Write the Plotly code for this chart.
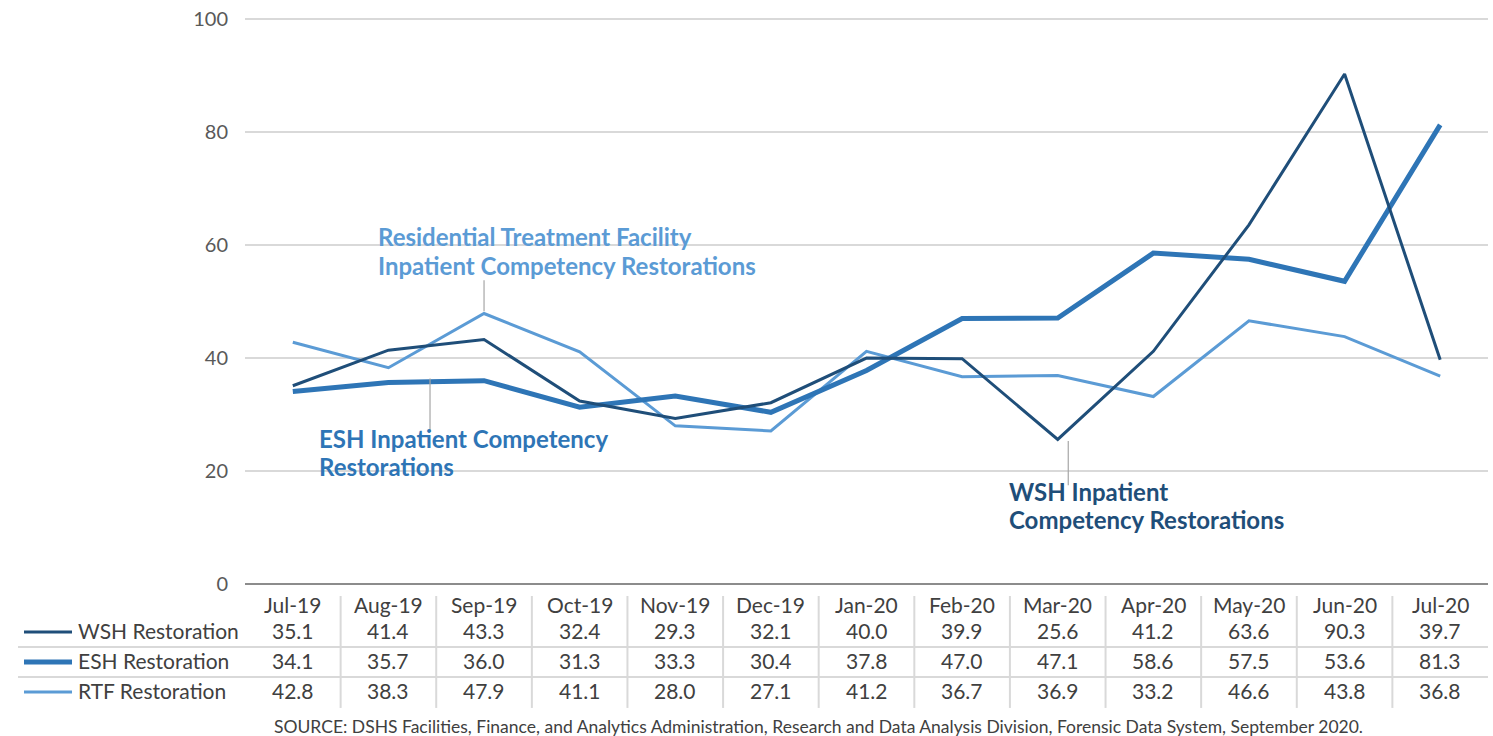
import plotly.graph_objects as go

months = ["Jul-19", "Aug-19", "Sep-19", "Oct-19", "Nov-19", "Dec-19", "Jan-20",
          "Feb-20", "Mar-20", "Apr-20", "May-20", "Jun-20", "Jul-20"]
wsh = [35.1, 41.4, 43.3, 32.4, 29.3, 32.1, 40.0, 39.9, 25.6, 41.2, 63.6, 90.3, 39.7]
esh = [34.1, 35.7, 36.0, 31.3, 33.3, 30.4, 37.8, 47.0, 47.1, 58.6, 57.5, 53.6, 81.3]
rtf = [42.8, 38.3, 47.9, 41.1, 28.0, 27.1, 41.2, 36.7, 36.9, 33.2, 46.6, 43.8, 36.8]
series_names = ["WSH Restoration", "ESH Restoration", "RTF Restoration"]
y_ticks = [0, 20, 40, 60, 80, 100]

C_WSH = "#1F4E79"
C_ESH = "#2E75B6"
C_RTF = "#5B9BD5"
TXT = "#404040"
GRID = "#D9D9D9"
FONT = "Lato"

W, H = 1493, 736
L, R, B = 245, 1488, 584
Y100 = 19                     # pixel of the 100 gridline
YMAX = 100.4
T = B - (B - Y100) * YMAX / 100  # top of plot area


def px(xp):
    return (xp - L) / (R - L)


def py(yp):
    return (B - yp) / (B - T)


fig = go.Figure()
fig.add_trace(go.Scatter(x=months, y=rtf, mode="lines", name=series_names[2],
                         line=dict(color=C_RTF, width=3)))
fig.add_trace(go.Scatter(x=months, y=esh, mode="lines", name=series_names[1],
                         line=dict(color=C_ESH, width=5)))
fig.add_trace(go.Scatter(x=months, y=wsh, mode="lines", name=series_names[0],
                         line=dict(color=C_WSH, width=3)))

shapes = []
annotations = []

TS = 21
rows = [(605, None), (631, wsh), (661, esh), (691, rtf)]
for i, m in enumerate(months):
    annotations.append(dict(x=m, xref="x", y=py(605), yref="paper", text=m,
                            showarrow=False, xanchor="center", yanchor="middle",
                            font=dict(family=FONT, size=TS, color=TXT)))
    for yp, vals in rows[1:]:
        annotations.append(dict(x=m, xref="x", y=py(yp), yref="paper",
                                text=f"{vals[i]:.1f}", showarrow=False,
                                xanchor="center", yanchor="middle",
                                font=dict(family=FONT, size=TS, color=TXT)))

legend_styles = [(C_WSH, 3), (C_ESH, 5), (C_RTF, 3)]
for (yp, _), name, (col, wd) in zip(rows[1:], series_names, legend_styles):
    shapes.append(dict(type="line", xref="paper", yref="paper",
                       x0=px(24), x1=px(72), y0=py(yp + 1), y1=py(yp + 1),
                       line=dict(color=col, width=wd)))
    annotations.append(dict(x=px(76), xref="paper", y=py(yp), yref="paper",
                            text=name, showarrow=False, xanchor="left",
                            yanchor="middle",
                            font=dict(family=FONT, size=TS, color=TXT)))

for yp in (647, 677):
    shapes.append(dict(type="line", xref="paper", yref="paper",
                       x0=px(18), x1=1, y0=py(yp), y1=py(yp),
                       line=dict(color=GRID, width=2)))
for k in range(len(months) - 1):
    shapes.append(dict(type="line", xref="x", yref="paper",
                       x0=k + 0.5, x1=k + 0.5, y0=py(596), y1=py(708),
                       line=dict(color=GRID, width=2)))

for x0, y0, y1 in [(2, 48.3, 53.8), (1.435, 26.9, 36.4), (8.11, 17.5, 25.3)]:
    shapes.append(dict(type="line", xref="x", yref="y", x0=x0, x1=x0,
                       y0=y0, y1=y1, line=dict(color="#A6A6A6", width=1.2)))

labels = [
    (376, 236, "Residential Treatment Facility", C_RTF),
    (376, 265, "Inpatient Competency Restorations", C_RTF),
    (317, 438, "ESH Inpatient Competency", C_ESH),
    (317, 466, "Restorations", C_ESH),
    (1007, 491, "WSH Inpatient", C_WSH),
    (1007, 519, "Competency Restorations", C_WSH),
]
for xp, yp, txt, col in labels:
    annotations.append(dict(x=px(xp), xref="paper", y=py(yp), yref="paper",
                            text=f"<b>{txt}</b>", showarrow=False,
                            xanchor="left", yanchor="middle",
                            font=dict(family=FONT, size=24, color=col)))

annotations.append(dict(x=px(818), xref="paper", y=py(727), yref="paper",
                        text="SOURCE: DSHS Facilities, Finance, and Analytics Administration, "
                             "Research and Data Analysis Division, Forensic Data System, September 2020.",
                        showarrow=False, xanchor="center", yanchor="middle",
                        font=dict(family=FONT, size=17.5, color=TXT)))

fig.update_layout(
    width=W, height=H,
    margin=dict(l=L, r=W - R, t=T, b=H - B),
    plot_bgcolor="white", paper_bgcolor="white",
    showlegend=False,
    shapes=shapes, annotations=annotations,
    xaxis=dict(range=[-0.5, 12.5], showticklabels=False, showgrid=False,
               zeroline=False, showline=False, fixedrange=True),
    yaxis=dict(range=[0, YMAX], tickvals=y_ticks, showgrid=True, gridcolor=GRID,
               gridwidth=1.5, zeroline=True, zerolinecolor="#8C8C8C",
               zerolinewidth=2, ticks="", ticklabelstandoff=16,
               tickfont=dict(family=FONT, size=20, color="#595959"),
               showline=False, fixedrange=True),
)

fig.write_html("out.html", config={"displayModeBar": False},
               post_script="document.body.style.margin='0';document.body.style.overflow='hidden';")
